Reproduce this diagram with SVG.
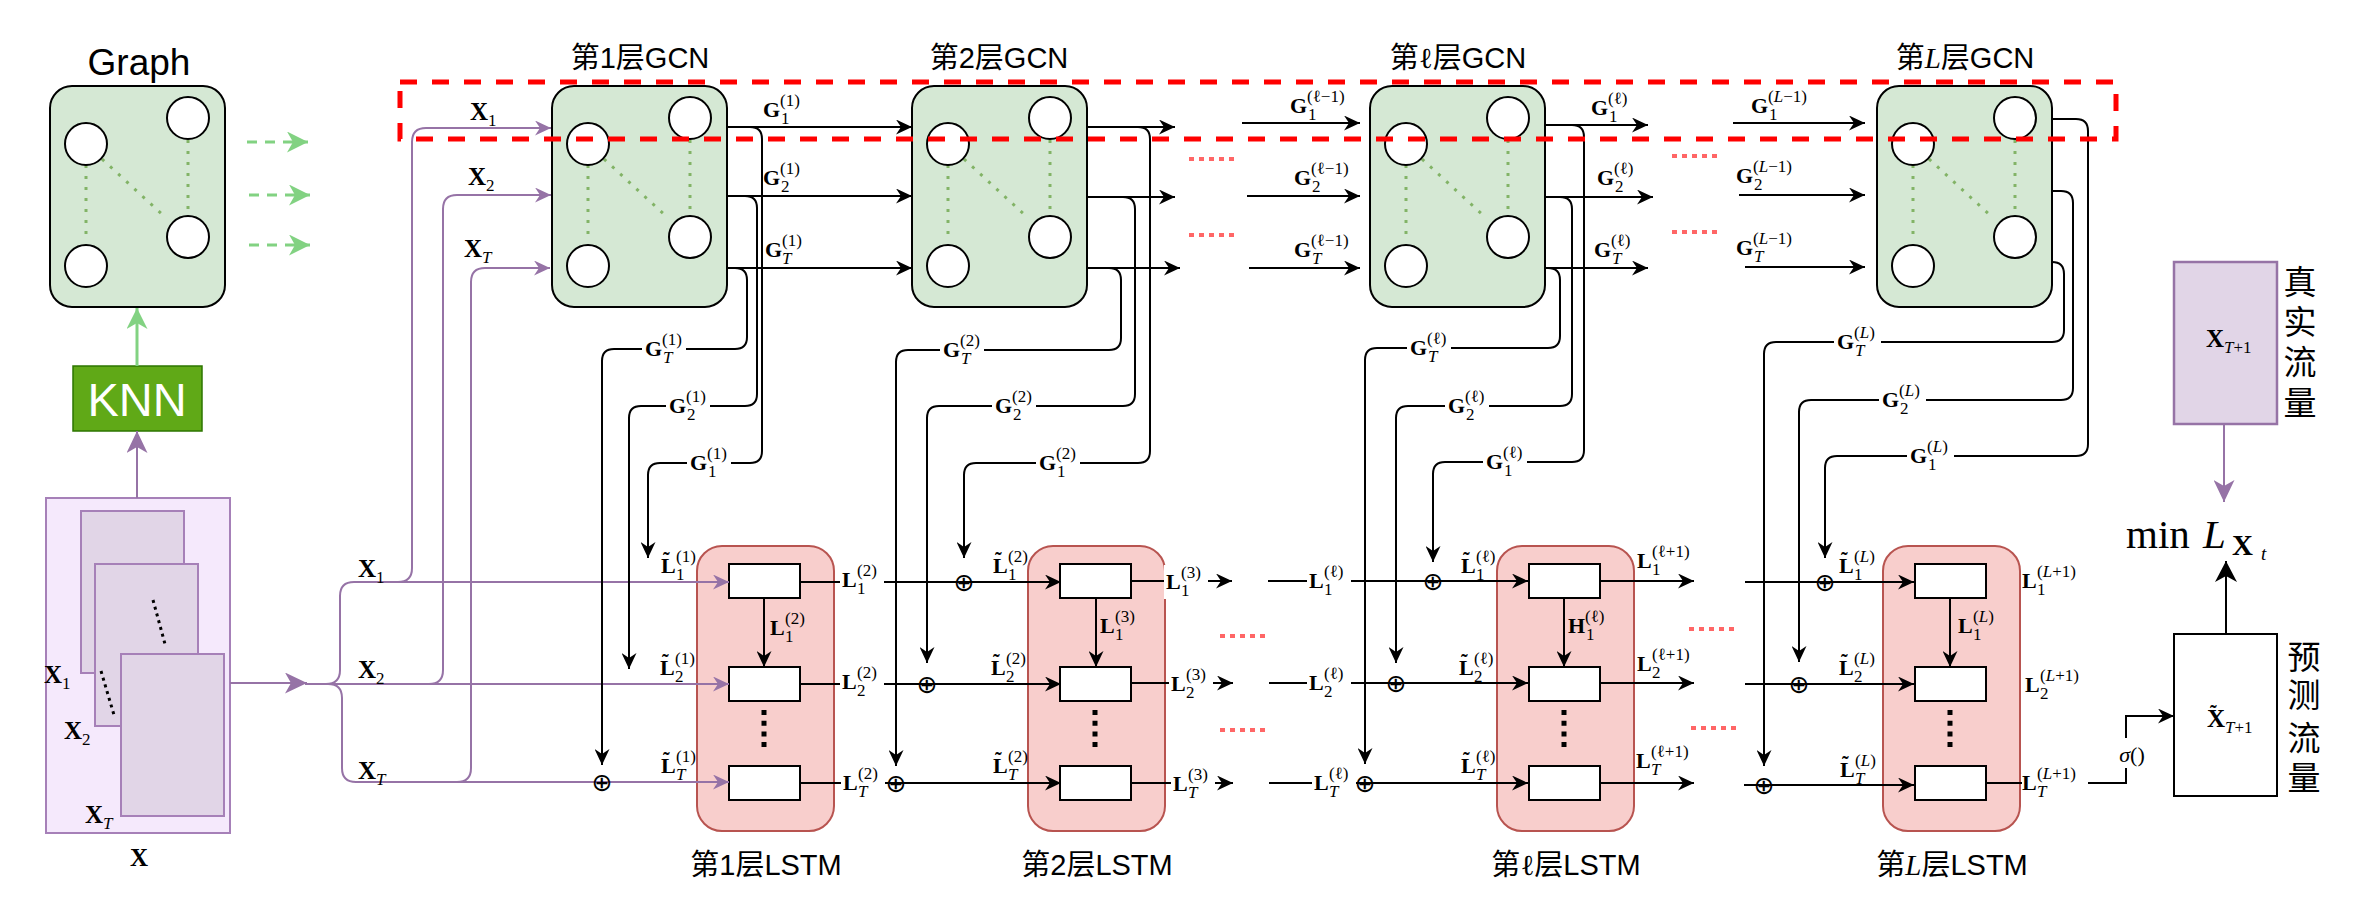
<svg xmlns="http://www.w3.org/2000/svg" xmlns:xlink="http://www.w3.org/1999/xlink" width="2366" height="911" viewBox="0 0 2366 911">
<style>
.cj{font-family:"Liberation Sans","Noto Sans CJK SC",sans-serif;font-size:29px;fill:#000}
.cjv{font-family:"Noto Sans CJK SC",sans-serif;font-size:33px;fill:#000;text-anchor:middle}
.m{font-family:"Liberation Serif",serif;font-weight:bold;font-size:22px;fill:#000}
.mx{font-family:"Liberation Serif",serif;font-weight:bold;font-size:25px;fill:#000}
.s{font-weight:normal;font-size:17px}
.i{font-style:italic}
.tl{font-weight:bold;font-size:20px}
.gbox{fill:#d5e8d4;stroke:#000;stroke-width:2}
.node{fill:#fff;stroke:#000;stroke-width:2}
.edge{fill:none;stroke:#82b366;stroke-width:3;stroke-dasharray:3 8}
.lbox{fill:#f8cecc;stroke:#b85450;stroke-width:2}
.cell{fill:#fff;stroke:#000;stroke-width:2}
.k{fill:none;stroke:#000;stroke-width:2}
.p{fill:none;stroke:#9673a6;stroke-width:2}
.rd{fill:none;stroke:#ff6666;stroke-width:4;stroke-dasharray:5 5}
.op{font-family:"DejaVu Sans",sans-serif;font-size:25px;text-anchor:middle;dominant-baseline:central;fill:#000}
.bg{fill:#fff}
</style>
<defs>
<marker id="ak" viewBox="0 0 16 15" refX="16" refY="7.5" markerWidth="16" markerHeight="15" markerUnits="userSpaceOnUse" orient="auto"><path d="M0,0 L16,7.5 L0,15 L5,7.5 Z" fill="#000"/></marker>
<marker id="akb" viewBox="0 0 21 22" refX="21" refY="11" markerWidth="21" markerHeight="22" markerUnits="userSpaceOnUse" orient="auto"><path d="M0,0 L21,11 L0,22 L6,11 Z" fill="#000"/></marker>
<marker id="ap" viewBox="0 0 16 15" refX="16" refY="7.5" markerWidth="16" markerHeight="15" markerUnits="userSpaceOnUse" orient="auto"><path d="M0,0 L16,7.5 L0,15 L5,7.5 Z" fill="#9673a6"/></marker>
<marker id="apb" viewBox="0 0 22 21" refX="22" refY="10.5" markerWidth="22" markerHeight="21" markerUnits="userSpaceOnUse" orient="auto"><path d="M0,0 L22,10.5 L0,21 L6,10.5 Z" fill="#9673a6"/></marker>
<marker id="ag" viewBox="0 0 21 21" refX="21" refY="10.5" markerWidth="21" markerHeight="21" markerUnits="userSpaceOnUse" orient="auto"><path d="M0,0 L21,10.5 L0,21 L6,10.5 Z" fill="#82d282"/></marker>
<g id="gcnshape">
<rect x="0" y="0" width="175" height="221" rx="22" class="gbox"/>
<path d="M36,79 V152 M52,73 L115,131 M138,54 V126" class="edge"/>
<circle cx="36" cy="58" r="21" class="node"/>
<circle cx="138" cy="32" r="21" class="node"/>
<circle cx="138" cy="151" r="21" class="node"/>
<circle cx="36" cy="180" r="21" class="node"/>
</g>
<g id="lstmshape">
<rect x="0" y="0" width="137" height="285" rx="25" class="lbox"/>
<rect x="32" y="18" width="71" height="34" class="cell"/>
<rect x="32" y="121" width="71" height="34" class="cell"/>
<rect x="32" y="220" width="71" height="34" class="cell"/>
<path d="M67,164 V202" stroke="#000" stroke-width="5" stroke-dasharray="5 5.7"/>
</g>
</defs>
<rect width="2366" height="911" fill="#fff"/>

<g id="graph">
<text x="139" y="75" font-family="Liberation Sans, sans-serif" font-size="37" text-anchor="middle">Graph</text>
<use xlink:href="#gcnshape" x="50" y="86"/>
</g>
<g id="knn">
<rect x="73" y="366" width="129" height="65" fill="#60a917" stroke="#2d7600" stroke-width="1.5"/>
<text x="137" y="416" font-family="Liberation Sans, sans-serif" font-size="47" fill="#fff" text-anchor="middle">KNN</text>
</g>
<g id="xinput">
<rect x="46" y="498" width="184" height="335" fill="#f5e9fc" stroke="#a680b8" stroke-width="2"/>
<rect x="81" y="511" width="103" height="162" fill="#e1d5e7" stroke="#a680b8" stroke-width="2"/>
<rect x="95" y="564" width="103" height="162" fill="#e1d5e7" stroke="#a680b8" stroke-width="2"/>
<rect x="121" y="654" width="103" height="162" fill="#e1d5e7" stroke="#a680b8" stroke-width="2"/>
<path d="M153,600 L165,644 M101,671 L114,715" stroke="#000" stroke-width="3" stroke-dasharray="3 4"/>
<text class="mx" x="44" y="683">X<tspan class="s" x="62" y="689">1</tspan></text>
<text class="mx" x="64" y="739">X<tspan class="s" x="82" y="745">2</tspan></text>
<text class="mx" x="85" y="823">X<tspan class="s i" x="103" y="829">T</tspan></text>
<text class="mx" x="139" y="866" text-anchor="middle">X</text>
</g>

<g id="gcn1"><use xlink:href="#gcnshape" x="552" y="86"/><text class="cj" x="640" y="68" text-anchor="middle">第1层GCN</text></g>
<g id="gcn2"><use xlink:href="#gcnshape" x="912" y="86"/><text class="cj" x="999" y="68" text-anchor="middle">第2层GCN</text></g>
<g id="gcnl"><use xlink:href="#gcnshape" x="1370" y="86"/><text class="cj" x="1458" y="68" text-anchor="middle">第<tspan font-family="Liberation Serif, serif">ℓ</tspan>层GCN</text></g>
<g id="gcnL"><use xlink:href="#gcnshape" x="1877" y="86"/><text class="cj" x="1965" y="68" text-anchor="middle">第<tspan font-family="Liberation Serif, serif" font-style="italic">L</tspan>层GCN</text></g>

<g id="lstm1"><use xlink:href="#lstmshape" x="697" y="546"/><text class="cj" x="766" y="875" text-anchor="middle">第1层LSTM</text></g>
<g id="lstm2"><use xlink:href="#lstmshape" x="1028" y="546"/><text class="cj" x="1097" y="875" text-anchor="middle">第2层LSTM</text></g>
<g id="lstml"><use xlink:href="#lstmshape" x="1497" y="546"/><text class="cj" x="1566" y="875" text-anchor="middle">第<tspan font-family="Liberation Serif, serif">ℓ</tspan>层LSTM</text></g>
<g id="lstmL"><use xlink:href="#lstmshape" x="1883" y="546"/><text class="cj" x="1952" y="875" text-anchor="middle">第<tspan font-family="Liberation Serif, serif" font-style="italic">L</tspan>层LSTM</text></g>

<g id="real">
<rect x="2174" y="262" width="103" height="162" fill="#e1d5e7" stroke="#9673a6" stroke-width="2.5"/>
<text class="mx" x="2206" y="347">X<tspan class="s" font-size="20" x="2224" y="353"><tspan class="i">T</tspan>+1</tspan></text>
<text class="cjv" x="2300" y="294">真</text>
<text class="cjv" x="2300" y="334">实</text>
<text class="cjv" x="2300" y="374">流</text>
<text class="cjv" x="2300" y="415">量</text>
</g>
<g id="pred">
<rect x="2174" y="634" width="103" height="162" fill="#fff" stroke="#000" stroke-width="2"/>
<text class="mx" x="2207" y="727">X<tspan class="tl" x="2210" y="720">˜</tspan><tspan class="s" font-size="20" x="2225" y="733"><tspan class="i">T</tspan>+1</tspan></text>
<text class="cjv" x="2304" y="669">预</text>
<text class="cjv" x="2304" y="707">测</text>
<text class="cjv" x="2304" y="750">流</text>
<text class="cjv" x="2304" y="790">量</text>
</g>
<g id="loss">
<text x="2126" y="548" font-family="Liberation Serif, serif" font-size="41">min<tspan class="i" x="2203">L</tspan><tspan x="2232" y="555" font-weight="bold" font-size="29">X</tspan><tspan class="i" x="2261" y="560" font-size="19">t</tspan></text>
</g>

<g id="connectors">
<path d="M137,498 V431" class="p" stroke-width="3" marker-end="url(#apb)"/>
<path d="M230,683 H307" class="p" stroke-width="3" marker-end="url(#apb)"/>
<path d="M305,684 H326 Q340,684 340,670 V596 Q340,582 354,582 H729" class="p" marker-end="url(#ap)"/>
<path d="M305,684 H729" class="p" marker-end="url(#ap)"/>
<path d="M305,684 H328 Q342,684 342,698 V768 Q342,782 356,782 H729" class="p" marker-end="url(#ap)"/>
<path d="M398,582 Q412,582 412,568 V142 Q412,128 426,128 H551" class="p" marker-end="url(#ap)"/>
<path d="M429,684 Q443,684 443,670 V209 Q443,195 457,195 H551" class="p" marker-end="url(#ap)"/>
<path d="M457,782 Q471,782 471,768 V282 Q471,268 485,268 H550" class="p" marker-end="url(#ap)"/>
<path d="M2224,424 V502" class="p" stroke-width="3" marker-end="url(#apb)"/>
<path d="M137,366 V308" fill="none" stroke="#82d282" stroke-width="3" marker-end="url(#ag)"/>
<path d="M247,142 H308 M249,195 H310 M249,245 H310" fill="none" stroke="#82d282" stroke-width="3" stroke-dasharray="10 8"/>
<path d="M296,142 H308" fill="none" stroke="none" marker-end="url(#ag)"/>
<path d="M298,195 H310" fill="none" stroke="none" marker-end="url(#ag)"/>
<path d="M298,245 H310" fill="none" stroke="none" marker-end="url(#ag)"/>
<path d="M727,127 H912" class="k" marker-end="url(#ak)"/>
<path d="M727,196 H912" class="k" marker-end="url(#ak)"/>
<path d="M727,268 H912" class="k" marker-end="url(#ak)"/>
<path d="M1086,127 H1175" class="k" marker-end="url(#ak)"/>
<path d="M1086,197 H1175" class="k" marker-end="url(#ak)"/>
<path d="M1086,268 H1180" class="k" marker-end="url(#ak)"/>
<path d="M1242,123 H1360" class="k" marker-end="url(#ak)"/>
<path d="M1247,196 H1360" class="k" marker-end="url(#ak)"/>
<path d="M1249,268 H1360" class="k" marker-end="url(#ak)"/>
<path d="M1546,125 H1648" class="k" marker-end="url(#ak)"/>
<path d="M1546,197 H1653" class="k" marker-end="url(#ak)"/>
<path d="M1546,268 H1648" class="k" marker-end="url(#ak)"/>
<path d="M1733,123 H1865" class="k" marker-end="url(#ak)"/>
<path d="M1739,195 H1865" class="k" marker-end="url(#ak)"/>
<path d="M1745,267 H1865" class="k" marker-end="url(#ak)"/>
<path d="M750,127 Q762,127 762,139 V451 Q762,463 750,463 H660 Q648,463 648,475 V558" class="k" marker-end="url(#ak)"/>
<path d="M745,196 Q757,196 757,208 V394 Q757,406 745,406 H641 Q629,406 629,418 V669" class="k" marker-end="url(#ak)"/>
<path d="M735,268 Q747,268 747,280 V337 Q747,349 735,349 H614 Q602,349 602,361 V765" class="k" marker-end="url(#ak)"/>
<path d="M1138,127 Q1150,127 1150,139 V451 Q1150,463 1138,463 H976 Q964,463 964,475 V558" class="k" marker-end="url(#ak)"/>
<path d="M1123,197 Q1135,197 1135,209 V394 Q1135,406 1123,406 H939 Q927,406 927,418 V663" class="k" marker-end="url(#ak)"/>
<path d="M1109,268 Q1121,268 1121,280 V338 Q1121,350 1109,350 H908 Q896,350 896,362 V766" class="k" marker-end="url(#ak)"/>
<path d="M1572,125 Q1584,125 1584,137 V450 Q1584,462 1572,462 H1445 Q1433,462 1433,474 V562" class="k" marker-end="url(#ak)"/>
<path d="M1560,197 Q1572,197 1572,209 V394 Q1572,406 1560,406 H1408 Q1396,406 1396,418 V663" class="k" marker-end="url(#ak)"/>
<path d="M1548,268 Q1560,268 1560,280 V336 Q1560,348 1548,348 H1377 Q1365,348 1365,360 V764" class="k" marker-end="url(#ak)"/>
<path d="M2052,119 H2076 Q2088,119 2088,131 V444 Q2088,456 2076,456 H1837 Q1825,456 1825,468 V558" class="k" marker-end="url(#ak)"/>
<path d="M2052,191 H2061 Q2073,191 2073,203 V388 Q2073,400 2061,400 H1811 Q1799,400 1799,412 V662" class="k" marker-end="url(#ak)"/>
<path d="M2052,262 Q2064,262 2064,274 V330 Q2064,342 2052,342 H1776 Q1764,342 1764,354 V766" class="k" marker-end="url(#ak)"/>
<path d="M764,598 V667" class="k" marker-end="url(#ak)"/>
<path d="M1096,598 V667" class="k" marker-end="url(#ak)"/>
<path d="M1564,598 V667" class="k" marker-end="url(#ak)"/>
<path d="M1950,598 V667" class="k" marker-end="url(#ak)"/>
<path d="M800,582 H1061" class="k" marker-end="url(#ak)"/>
<path d="M800,684 H1061" class="k" marker-end="url(#ak)"/>
<path d="M800,783 H1061" class="k" marker-end="url(#ak)"/>
<path d="M1131,581 H1232" class="k" marker-end="url(#ak)"/>
<path d="M1131,683 H1233" class="k" marker-end="url(#ak)"/>
<path d="M1131,783 H1233" class="k" marker-end="url(#ak)"/>
<path d="M1268,581 H1528" class="k" marker-end="url(#ak)"/>
<path d="M1269,683 H1528" class="k" marker-end="url(#ak)"/>
<path d="M1269,783 H1528" class="k" marker-end="url(#ak)"/>
<path d="M1599,581 H1694" class="k" marker-end="url(#ak)"/>
<path d="M1599,683 H1694" class="k" marker-end="url(#ak)"/>
<path d="M1599,783 H1694" class="k" marker-end="url(#ak)"/>
<path d="M1745,582 H1914" class="k" marker-end="url(#ak)"/>
<path d="M1745,684 H1914" class="k" marker-end="url(#ak)"/>
<path d="M1744,785 H1914" class="k" marker-end="url(#ak)"/>
<path d="M1985,783 H2022" class="k"/>
<path d="M2088,783 H2126 V716 H2174" class="k" marker-end="url(#ak)"/>
<path d="M2226,634 V561" class="k" stroke-width="3" marker-end="url(#akb)"/>
<path d="M1189,159 H1238 M1189,235 H1238 M1672,156 H1721 M1672,232 H1721 M1220,636 H1269 M1220,730 H1269 M1689,629 H1738 M1691,728 H1739" class="rd"/>
</g>

<g id="oplus">
<text class="op" x="602" y="782">⊕</text>
<text class="op" x="964" y="582">⊕</text>
<text class="op" x="927" y="684">⊕</text>
<text class="op" x="896" y="783">⊕</text>
<text class="op" x="1433" y="581">⊕</text>
<text class="op" x="1396" y="683">⊕</text>
<text class="op" x="1365" y="783">⊕</text>
<text class="op" x="1825" y="582">⊕</text>
<text class="op" x="1799" y="684">⊕</text>
<text class="op" x="1764" y="785">⊕</text>
</g>

<g id="labels">
<text class="mx" x="470" y="120">X<tspan class="s" x="488" y="126">1</tspan></text>
<text class="mx" x="468" y="185">X<tspan class="s" x="486" y="191">2</tspan></text>
<text class="mx" x="464" y="257">X<tspan class="s i" x="482" y="263">T</tspan></text>
<text class="mx" x="358" y="577">X<tspan class="s" x="376" y="583">1</tspan></text>
<text class="mx" x="358" y="678">X<tspan class="s" x="376" y="684">2</tspan></text>
<text class="mx" x="358" y="779">X<tspan class="s i" x="376" y="785">T</tspan></text>
<text class="m" x="763" y="117">G<tspan class="s" x="780" y="106">(1)</tspan><tspan class="s" x="781" y="124">1</tspan></text>
<text class="m" x="763" y="185">G<tspan class="s" x="780" y="174">(1)</tspan><tspan class="s" x="781" y="192">2</tspan></text>
<text class="m" x="765" y="257">G<tspan class="s" x="782" y="246">(1)</tspan><tspan class="s i" x="782" y="264">T</tspan></text>
<text class="m" x="1290" y="113">G<tspan class="s" x="1307" y="102">(ℓ−1)</tspan><tspan class="s" x="1308" y="120">1</tspan></text>
<text class="m" x="1294" y="185">G<tspan class="s" x="1311" y="174">(ℓ−1)</tspan><tspan class="s" x="1312" y="192">2</tspan></text>
<text class="m" x="1294" y="257">G<tspan class="s" x="1311" y="246">(ℓ−1)</tspan><tspan class="s i" x="1312" y="264">T</tspan></text>
<text class="m" x="1591" y="115">G<tspan class="s" x="1608" y="104">(ℓ)</tspan><tspan class="s" x="1609" y="122">1</tspan></text>
<text class="m" x="1597" y="185">G<tspan class="s" x="1614" y="174">(ℓ)</tspan><tspan class="s" x="1615" y="192">2</tspan></text>
<text class="m" x="1594" y="257">G<tspan class="s" x="1611" y="246">(ℓ)</tspan><tspan class="s i" x="1612" y="264">T</tspan></text>
<text class="m" x="1751" y="113">G<tspan class="s" x="1768" y="102">(<tspan class="i">L</tspan>−1)</tspan><tspan class="s" x="1769" y="120">1</tspan></text>
<text class="m" x="1736" y="183">G<tspan class="s" x="1753" y="172">(<tspan class="i">L</tspan>−1)</tspan><tspan class="s" x="1754" y="190">2</tspan></text>
<text class="m" x="1736" y="255">G<tspan class="s" x="1753" y="244">(<tspan class="i">L</tspan>−1)</tspan><tspan class="s i" x="1754" y="262">T</tspan></text>
<rect x="642" y="335" width="44" height="30" class="bg"/>
<text class="m" x="645" y="356">G<tspan class="s" x="662" y="345">(1)</tspan><tspan class="s i" x="663" y="363">T</tspan></text>
<rect x="666" y="392" width="44" height="30" class="bg"/>
<text class="m" x="669" y="413">G<tspan class="s" x="686" y="402">(1)</tspan><tspan class="s" x="687" y="420">2</tspan></text>
<rect x="687" y="449" width="44" height="30" class="bg"/>
<text class="m" x="690" y="470">G<tspan class="s" x="707" y="459">(1)</tspan><tspan class="s" x="708" y="477">1</tspan></text>
<rect x="940" y="336" width="44" height="30" class="bg"/>
<text class="m" x="943" y="357">G<tspan class="s" x="960" y="346">(2)</tspan><tspan class="s i" x="961" y="364">T</tspan></text>
<rect x="992" y="392" width="44" height="30" class="bg"/>
<text class="m" x="995" y="413">G<tspan class="s" x="1012" y="402">(2)</tspan><tspan class="s" x="1013" y="420">2</tspan></text>
<rect x="1036" y="449" width="44" height="30" class="bg"/>
<text class="m" x="1039" y="470">G<tspan class="s" x="1056" y="459">(2)</tspan><tspan class="s" x="1057" y="477">1</tspan></text>
<rect x="1407" y="334" width="44" height="30" class="bg"/>
<text class="m" x="1410" y="355">G<tspan class="s" x="1427" y="344">(ℓ)</tspan><tspan class="s i" x="1428" y="362">T</tspan></text>
<rect x="1445" y="392" width="44" height="30" class="bg"/>
<text class="m" x="1448" y="413">G<tspan class="s" x="1465" y="402">(ℓ)</tspan><tspan class="s" x="1466" y="420">2</tspan></text>
<rect x="1483" y="448" width="44" height="30" class="bg"/>
<text class="m" x="1486" y="469">G<tspan class="s" x="1503" y="458">(ℓ)</tspan><tspan class="s" x="1504" y="476">1</tspan></text>
<rect x="1834" y="328" width="47" height="30" class="bg"/>
<text class="m" x="1837" y="349">G<tspan class="s" x="1854" y="338">(<tspan class="i">L</tspan>)</tspan><tspan class="s i" x="1855" y="356">T</tspan></text>
<rect x="1879" y="386" width="47" height="30" class="bg"/>
<text class="m" x="1882" y="407">G<tspan class="s" x="1899" y="396">(<tspan class="i">L</tspan>)</tspan><tspan class="s" x="1900" y="414">2</tspan></text>
<rect x="1907" y="442" width="47" height="30" class="bg"/>
<text class="m" x="1910" y="463">G<tspan class="s" x="1927" y="452">(<tspan class="i">L</tspan>)</tspan><tspan class="s" x="1928" y="470">1</tspan></text>
<text class="m" x="661" y="573">L<tspan class="tl" x="663" y="567">˜</tspan><tspan class="s" x="676" y="562">(1)</tspan><tspan class="s" x="676" y="580">1</tspan></text>
<text class="m" x="660" y="675">L<tspan class="tl" x="662" y="669">˜</tspan><tspan class="s" x="675" y="664">(1)</tspan><tspan class="s" x="675" y="682">2</tspan></text>
<text class="m" x="661" y="773">L<tspan class="tl" x="663" y="767">˜</tspan><tspan class="s" x="676" y="762">(1)</tspan><tspan class="s i" x="676" y="780">T</tspan></text>
<text class="m" x="770" y="635">L<tspan class="s" x="785" y="624">(2)</tspan><tspan class="s" x="785" y="642">1</tspan></text>
<rect x="840" y="565" width="44" height="34" class="bg"/>
<text class="m" x="842" y="587">L<tspan class="s" x="857" y="576">(2)</tspan><tspan class="s" x="857" y="594">1</tspan></text>
<rect x="840" y="667" width="44" height="34" class="bg"/>
<text class="m" x="842" y="689">L<tspan class="s" x="857" y="678">(2)</tspan><tspan class="s" x="857" y="696">2</tspan></text>
<rect x="841" y="766" width="44" height="34" class="bg"/>
<text class="m" x="843" y="790">L<tspan class="s" x="858" y="779">(2)</tspan><tspan class="s i" x="858" y="797">T</tspan></text>
<text class="m" x="993" y="573">L<tspan class="tl" x="995" y="567">˜</tspan><tspan class="s" x="1008" y="562">(2)</tspan><tspan class="s" x="1008" y="580">1</tspan></text>
<text class="m" x="991" y="675">L<tspan class="tl" x="993" y="669">˜</tspan><tspan class="s" x="1006" y="664">(2)</tspan><tspan class="s" x="1006" y="682">2</tspan></text>
<text class="m" x="993" y="773">L<tspan class="tl" x="995" y="767">˜</tspan><tspan class="s" x="1008" y="762">(2)</tspan><tspan class="s i" x="1008" y="780">T</tspan></text>
<text class="m" x="1100" y="633">L<tspan class="s" x="1115" y="622">(3)</tspan><tspan class="s" x="1115" y="640">1</tspan></text>
<rect x="1164" y="565" width="44" height="34" class="bg"/>
<text class="m" x="1166" y="589">L<tspan class="s" x="1181" y="578">(3)</tspan><tspan class="s" x="1181" y="596">1</tspan></text>
<rect x="1169" y="667" width="44" height="34" class="bg"/>
<text class="m" x="1171" y="691">L<tspan class="s" x="1186" y="680">(3)</tspan><tspan class="s" x="1186" y="698">2</tspan></text>
<rect x="1171" y="767" width="44" height="34" class="bg"/>
<text class="m" x="1173" y="791">L<tspan class="s" x="1188" y="780">(3)</tspan><tspan class="s i" x="1188" y="798">T</tspan></text>
<rect x="1307" y="565" width="44" height="34" class="bg"/>
<text class="m" x="1309" y="588">L<tspan class="s" x="1324" y="577">(ℓ)</tspan><tspan class="s" x="1324" y="595">1</tspan></text>
<rect x="1307" y="667" width="44" height="34" class="bg"/>
<text class="m" x="1309" y="690">L<tspan class="s" x="1324" y="679">(ℓ)</tspan><tspan class="s" x="1324" y="697">2</tspan></text>
<rect x="1312" y="767" width="44" height="34" class="bg"/>
<text class="m" x="1314" y="790">L<tspan class="s" x="1329" y="779">(ℓ)</tspan><tspan class="s i" x="1329" y="797">T</tspan></text>
<text class="m" x="1461" y="573">L<tspan class="tl" x="1463" y="567">˜</tspan><tspan class="s" x="1476" y="562">(ℓ)</tspan><tspan class="s" x="1476" y="580">1</tspan></text>
<text class="m" x="1459" y="675">L<tspan class="tl" x="1461" y="669">˜</tspan><tspan class="s" x="1474" y="664">(ℓ)</tspan><tspan class="s" x="1474" y="682">2</tspan></text>
<text class="m" x="1461" y="773">L<tspan class="tl" x="1463" y="767">˜</tspan><tspan class="s" x="1476" y="762">(ℓ)</tspan><tspan class="s i" x="1476" y="780">T</tspan></text>
<text class="m" x="1568" y="633">H<tspan class="s" x="1585" y="622">(ℓ)</tspan><tspan class="s" x="1586" y="640">1</tspan></text>
<text class="m" x="1637" y="568">L<tspan class="s" x="1652" y="557">(ℓ+1)</tspan><tspan class="s" x="1652" y="575">1</tspan></text>
<text class="m" x="1637" y="671">L<tspan class="s" x="1652" y="660">(ℓ+1)</tspan><tspan class="s" x="1652" y="678">2</tspan></text>
<text class="m" x="1636" y="768">L<tspan class="s" x="1651" y="757">(ℓ+1)</tspan><tspan class="s i" x="1651" y="775">T</tspan></text>
<text class="m" x="1839" y="573">L<tspan class="tl" x="1841" y="567">˜</tspan><tspan class="s" x="1854" y="562">(<tspan class="i">L</tspan>)</tspan><tspan class="s" x="1854" y="580">1</tspan></text>
<text class="m" x="1839" y="675">L<tspan class="tl" x="1841" y="669">˜</tspan><tspan class="s" x="1854" y="664">(<tspan class="i">L</tspan>)</tspan><tspan class="s" x="1854" y="682">2</tspan></text>
<text class="m" x="1840" y="777">L<tspan class="tl" x="1842" y="771">˜</tspan><tspan class="s" x="1855" y="766">(<tspan class="i">L</tspan>)</tspan><tspan class="s i" x="1855" y="784">T</tspan></text>
<text class="m" x="1958" y="633">L<tspan class="s" x="1973" y="622">(<tspan class="i">L</tspan>)</tspan><tspan class="s" x="1973" y="640">1</tspan></text>
<text class="m" x="2022" y="588">L<tspan class="s" x="2037" y="577">(<tspan class="i">L</tspan>+1)</tspan><tspan class="s" x="2037" y="595">1</tspan></text>
<text class="m" x="2025" y="692">L<tspan class="s" x="2040" y="681">(<tspan class="i">L</tspan>+1)</tspan><tspan class="s" x="2040" y="699">2</tspan></text>
<text class="m" x="2022" y="790">L<tspan class="s" x="2037" y="779">(<tspan class="i">L</tspan>+1)</tspan><tspan class="s i" x="2037" y="797">T</tspan></text>
<rect x="2116" y="738" width="32" height="30" class="bg"/>
<text x="2132" y="762" font-family="Liberation Serif, serif" font-size="22" text-anchor="middle"><tspan class="i">σ</tspan>()</text>
</g>

<g id="highlight">
<rect x="400" y="82" width="1716" height="57" fill="none" stroke="#ff0000" stroke-width="5" stroke-dasharray="17 15"/>
</g>
</svg>
